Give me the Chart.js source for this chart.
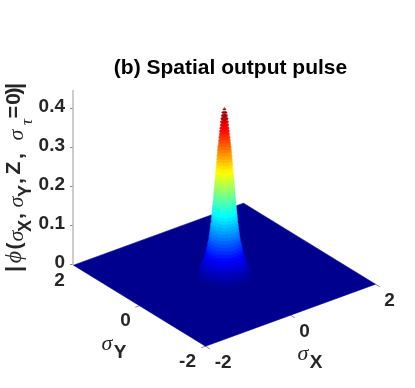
<!DOCTYPE html>
<html><head><meta charset="utf-8">
<style>html,body{margin:0;padding:0;background:#fff}#w{width:415px;height:388px}</style>
<script src="https://cdn.jsdelivr.net/npm/chart.js@4"></script></head>
<body><div id="w"><canvas id="c" width="415" height="388"></canvas></div>
<script>
// --- data ---
const zTicks = [0, 0.1, 0.2, 0.3, 0.4];
const sigmaXTicks = [-2, 0, 2];
const sigmaYTicks = [-2, 0, 2];
const planeCornersX = [-2, 2, 2, -2, -2];
const planeCornersY = [-2, -2, 2, 2, -2];
// pulse: height above plane and radius (in sigma units), bottom to top
const pulseHeight = [0.001,0.003,0.006,0.010,0.016,0.024,0.032,0.040,0.048,0.056,0.064,0.072,0.080,0.088,0.096,0.104,0.112,0.120,0.128,0.136,0.144,0.152,0.160,0.168,0.176,0.184,0.192,0.200,0.208,0.216,0.224,0.232,0.240,0.248,0.256,0.264,0.272,0.280,0.288,0.296,0.304,0.312,0.320,0.328,0.336,0.344,0.352,0.360,0.368,0.376,0.384,0.392,0.400,0.408,0.416,0.424,0.428];
const pulseRadius = [0.53,0.506,0.494,0.481,0.461,0.437,0.411,0.390,0.370,0.355,0.340,0.325,0.314,0.299,0.290,0.281,0.273,0.266,0.258,0.251,0.245,0.239,0.233,0.228,0.222,0.217,0.211,0.206,0.201,0.196,0.191,0.186,0.181,0.176,0.170,0.165,0.162,0.157,0.152,0.147,0.142,0.137,0.132,0.126,0.119,0.112,0.106,0.099,0.093,0.087,0.080,0.075,0.069,0.061,0.050,0.030,0.010];
const jetStops = ['#00008f','#0000ff','#007fff','#00ffff','#7fff7f','#ffff00','#ff7f00','#ff0000','#7f0000'];

// --- view ---
const PX = {xx:42.5, xy:-33, yx:15.5/390, yy:20.25/390, z0:-0.0255};
const projX = (sx,sy)=>PX.xx*sx+PX.xy*sy;
const projY = (sx,sy,z)=>z+PX.z0+PX.yx*sx+PX.yy*sy;
const pt = (sx,sy,z=0)=>({x:projX(sx,sy),y:projY(sx,sy,z)});

function hex(c){return [1,3,5].map(i=>parseInt(c.substr(i,2),16));}
function jet(f){
  const p=Math.min(0.9999,Math.max(0,f))*(jetStops.length-1),i=Math.floor(p),t=p-i;
  const a=hex(jetStops[i]),b=hex(jetStops[i+1]);
  return 'rgb('+a.map((v,k)=>Math.round(v+(b[k]-v)*t)).join(',')+')';
}
const zMax=Math.max(...pulseHeight);

const ds=[];
// y axis line
ds.push({data:[{x:-151.5,y:0-0.001},{x:-151.5,y:0.448}],showLine:true,borderColor:'#bdbdbd',borderWidth:1.5,pointRadius:0,fill:false,clip:false});
// ground plane
const mkPoly=(pts,col,w)=>({data:pts,showLine:true,borderColor:col,backgroundColor:col,borderWidth:w,pointRadius:0,fill:'shape',tension:0});
const rings=[];
pulseHeight.forEach((z,i)=>{
  const r=pulseRadius[i],pts=[];
  for(let k=0;k<=60;k++){const a=k/60*2*Math.PI;pts.push(pt(r*Math.cos(a),r*Math.sin(a),z));}
  rings.push(mkPoly(pts,jet(z/zMax),0.3));
});
// first in list is drawn on top
rings.reverse().forEach(d=>ds.push(d));
ds.push(mkPoly(planeCornersX.map((sx,i)=>pt(sx,planeCornersY[i])),jet(0),0.6));
// tick marks on plane edges
const marks=[];
sigmaXTicks.forEach(t=>{marks.push(pt(t,-2),pt(t,-2.13),{x:null,y:null});});
sigmaYTicks.forEach(t=>{marks.push(pt(-2,t),pt(-2.1,t),{x:null,y:null});});
ds.push({data:marks,showLine:true,borderColor:'#555',borderWidth:0.7,pointRadius:0,fill:false,spanGaps:false});

const ink='#262626';
function txt(ctx,s,x,y,font,col=ink,align='center'){ctx.font=font;ctx.fillStyle=col;ctx.textAlign=align;ctx.textBaseline='middle';ctx.fillText(s,x,y);}
const B='bold 19px "Liberation Sans"', G='italic 22px "Liberation Serif"', S='bold 18px "Liberation Sans"', M='bold 21px "Liberation Sans"';
const zLabel=[['|','bold 22px "Liberation Sans"',269,15],['ϕ','italic 24px "Liberation Serif"',257,15],['(',M,246,15],['σ',G,236,17],['X',S,226,26],[',',M,216,17],['σ',G,202,17],['Y',S,191,26],[',',M,181,17],['Z',M,168,14],[',',M,156,17],['σ',G,135,17],['τ','italic 17px "Liberation Serif"',122,28],['=',M,112,14],['0',M,99,14],[')',M,91,14],['|','bold 22px "Liberation Sans"',86,15]];
const textPlugin={id:'txt',afterDraw(ch){
  const c=ch.ctx,xs=ch.scales.x,ys=ch.scales.y;
  const P=(sx,sy)=>[xs.getPixelForValue(projX(sx,sy)),ys.getPixelForValue(projY(sx,sy,0))];
  c.save();
  sigmaXTicks.forEach((t,i)=>{const [x,y]=P(t,-2);txt(c,String(t),x+(i==0?17.7:14),y+17,B);});
  sigmaYTicks.forEach((t,i)=>{const [x,y]=P(-2,t);txt(c,String(t),x+(i==0?-18:-14),y+15.3,B);});
  txt(c,'σ',303,354,G);txt(c,'X',316,363,B);
  txt(c,'σ',107,344,G);txt(c,'Y',120,353,B);
  zLabel.forEach(([s,f,y,x])=>{c.save();c.translate(x,y);c.rotate(-Math.PI/2);txt(c,s,0,0,f);c.restore();});
  c.restore();
}};

new Chart(document.getElementById('c'),{
  type:'scatter',
  data:{datasets:ds},
  plugins:[textPlugin],
  options:{
    responsive:false,animation:false,
    layout:{padding:{right:27,left:0,top:0,bottom:0}},
    plugins:{legend:{display:false},tooltip:{enabled:false},
      title:{display:true,text:'(b) Spatial output pulse',fullSize:false,color:'#000',
        font:{family:'"Liberation Sans"',size:21,weight:'bold'},padding:{top:56,bottom:8.8}}},
    scales:{
      x:{type:'linear',display:false,min:-151.5,max:163.5},
      y:{type:'linear',min:-0.316,max:0.448,
        afterFit(s){s.width=73;s.paddingTop=0;s.paddingBottom=0;},
        afterBuildTicks(s){s.ticks=zTicks.map(v=>({value:v}));},
        border:{display:false},
        grid:{display:true,drawOnChartArea:false,drawTicks:true,tickLength:3,tickWidth:0.7,tickColor:'#555'},
        ticks:{color:ink,padding:5,labelOffset:-2,font:{family:'"Liberation Sans"',size:19,weight:'bold'},
          callback:v=>String(v)}}
    }
  }
});
</script></body></html>
